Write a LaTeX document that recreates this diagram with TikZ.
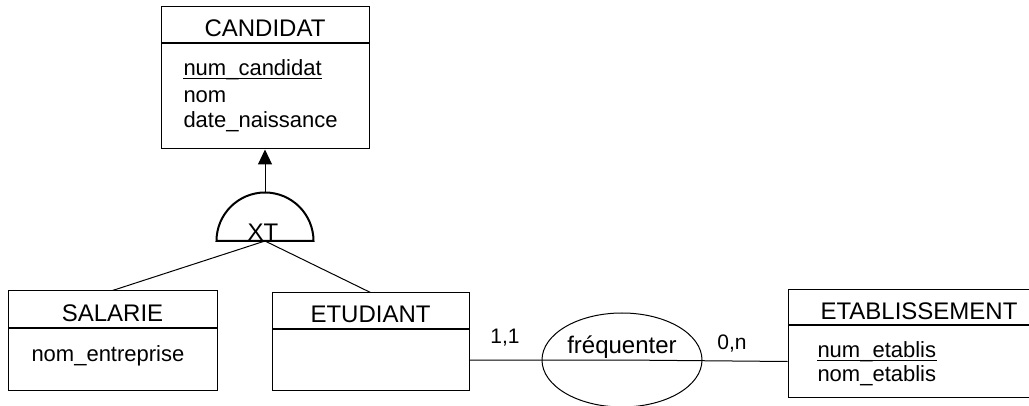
\documentclass[tikz,border=0pt]{standalone}
\usepackage{fontspec}
\setmainfont{Liberation Sans}
\usetikzlibrary{arrows.meta}
\usetikzlibrary{shapes.geometric}
\tikzset{titre/.style={draw,inner sep=0pt,text height=24pt,text depth=0pt,font=\fontsize{24}{24}\selectfont}}
\tikzset{corps/.style={draw,anchor=north,inner sep=0pt}}
\tikzset{attr/.style={anchor=base west,inner sep=0pt,font=\fontsize{22}{22}\selectfont}}
\tikzset{l/.style={anchor=base,inner sep=0pt,font=\fontsize{21}{21}\selectfont}}
\tikzset{rel/.style={anchor=base,inner sep=0pt,font=\fontsize{24}{24}\selectfont}}

\begin{document}
\begin{tikzpicture}[x=1pt,y=-1pt,line width=1pt]
        \useasboundingbox (0,0) rectangle (1029,406);
        \clip (0,0) rectangle (1029,406);
        % CANDIDAT
        \node[titre,minimum width=208pt,minimum height=36pt] (CAND) at (265,25) {CANDIDAT};
        \node[corps,minimum width=208pt,minimum height=105pt] (CANDb) at (CAND.south) {};
        \node[attr] (numc) at (183,76) {num\_candidat};
        \node[attr] (nomc) at (183,103) {nom};
        \node[attr] (datec) at (183,128) {date\_naissance};
        \draw ([yshift=-2.5pt]numc.base west) -- ([yshift=-2.5pt]numc.base east);
        % SALARIE
        \node[titre,minimum width=209pt,minimum height=37pt] (SAL) at (112.5,309.5) {SALARIE};
        \node[corps,minimum width=209pt,minimum height=61pt] (SALb) at (SAL.south) {};
        \node[attr] (noment) at (31,361) {nom\_entreprise};
        % ETUDIANT
        \node[titre,minimum width=197pt,minimum height=36pt] (ETU) at (370.5,311) {ETUDIANT};
        \node[corps,minimum width=197pt,minimum height=60pt] (ETUb) at (ETU.south) {};
        % ETABLISSEMENT
        \node[titre,minimum width=262pt,minimum height=35pt] (ETAB) at (919,307.5) {ETABLISSEMENT};
        \node[corps,minimum width=262pt,minimum height=71pt] (ETABb) at (ETAB.south) {};
        \node[attr] (nume) at (817,357.5) {num\_etablis};
        \node[attr] (nome) at (817,381.5) {nom\_etablis};
        \draw ([yshift=-2.5pt]nume.base west) -- ([yshift=-2.5pt]nume.base east);
        % heritage XT
        \coordinate (gen) at (265,241);
        \coordinate (gentop) at (265,192.5);
        \draw[line width=2pt] (216.5,241) arc[start angle=180,end angle=360,radius=48.5] -- cycle;
        \node[rel] (xt) at (263,241) {XT};
        \draw[-{Triangle[length=15pt,width=14pt]}] (gentop) -- (CANDb.south);
        \draw (gen) -- (SAL.north);
        \draw (gen) -- (ETU.north);
        % association
        \node[draw,ellipse,minimum width=160pt,minimum height=94pt,inner sep=0pt] (freq) at (622,360) {};
        \node[rel] (freqt) at (622,353) {fréquenter};
        \draw (ETUb.east) -- (freq.center) -- (ETABb.west);
        \node[l] (c11) at (505,343) {1,1};
        \node[l] (c0n) at (732,349) {0,n};
\end{tikzpicture}
\end{document}
